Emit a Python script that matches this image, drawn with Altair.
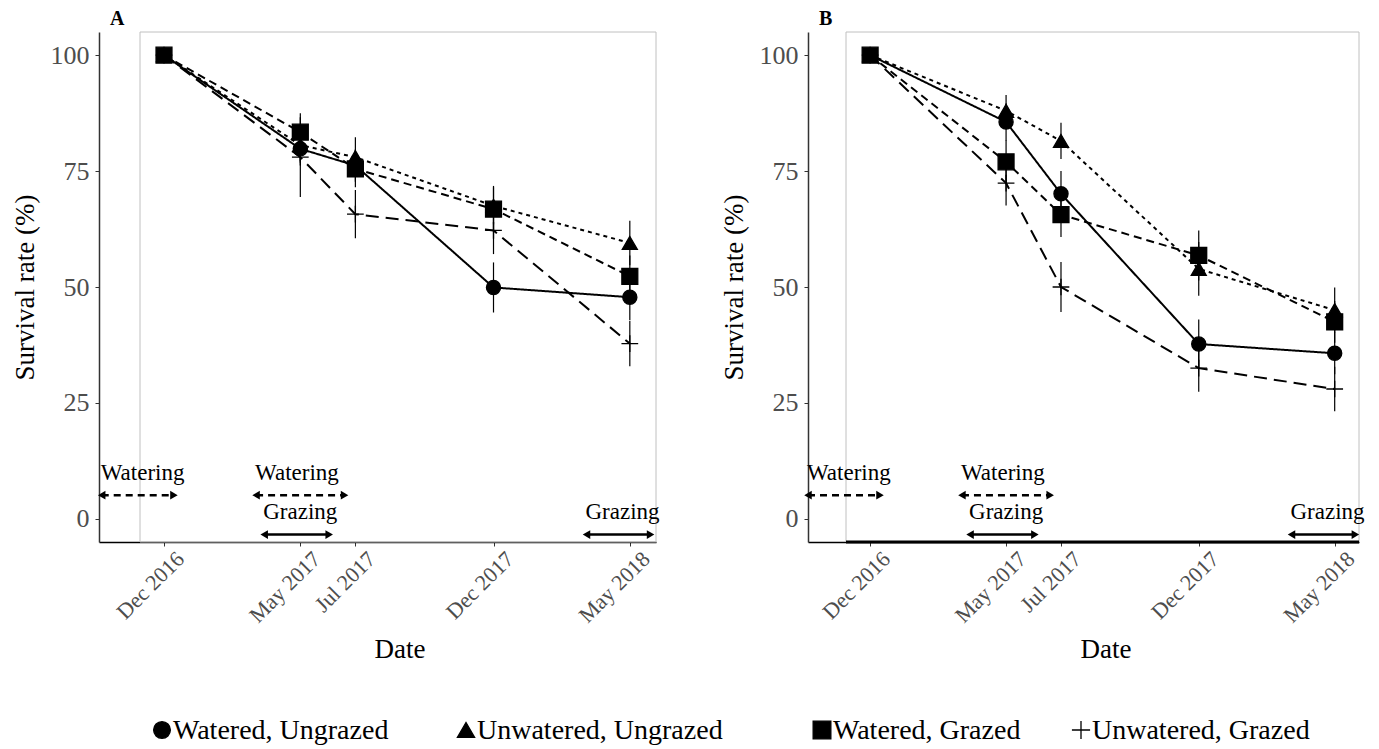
import altair as alt
import pandas as pd

SERIF = "Liberation Serif"

# ---------------- data ----------------
dates = ["2016-12-01", "2017-05-01", "2017-07-01", "2017-12-01", "2018-05-01"]
series = ["Watered, Ungrazed", "Unwatered, Ungrazed", "Watered, Grazed", "Unwatered, Grazed"]

# Panel A: mean survival (%) and error half-widths
a_watered_ungrazed = [100, 79.8, 76.2, 49.9, 47.8]
a_unwatered_ungrazed = [100, 80.6, 78.0, 67.5, 59.5]
a_watered_grazed = [100, 83.4, 75.5, 66.8, 52.3]
a_unwatered_grazed = [100, 78.0, 65.7, 62.2, 37.8]
a_err_watered_ungrazed = [1.5, 3.0, 3.5, 5.4, 4.9]
a_err_unwatered_ungrazed = [1.5, 3.5, 4.3, 4.0, 4.8]
a_err_watered_grazed = [1.5, 4.1, 4.0, 5.0, 4.5]
a_err_unwatered_grazed = [1.5, 8.6, 5.2, 5.1, 4.9]

# Panel B
b_watered_ungrazed = [100, 85.6, 70.1, 37.7, 35.7]
b_unwatered_ungrazed = [100, 88.0, 81.5, 53.9, 45.0]
b_watered_grazed = [100, 77.0, 65.6, 56.8, 42.5]
b_unwatered_grazed = [100, 72.4, 50.0, 32.5, 28.0]
b_err_watered_ungrazed = [1.5, 4.0, 4.9, 5.3, 4.5]
b_err_unwatered_ungrazed = [1.5, 3.4, 3.9, 5.8, 4.9]
b_err_watered_grazed = [1.5, 4.7, 4.8, 5.4, 4.5]
b_err_unwatered_grazed = [1.5, 4.8, 5.4, 5.1, 4.8]

# Treatment periods (annotation arrows)
period_names = ["Watering", "Watering", "Grazing", "Grazing"]
period_start = ["2016-09-23", "2017-03-13", "2017-03-22", "2018-03-14"]
period_end = ["2016-12-12", "2017-06-19", "2017-06-02", "2018-05-24"]

# ---------------- styling ----------------
shape_range = ["circle", "triangle-up", "square", "M-1,0L1,0M0,-1L0,1"]
size_range = [200, 280, 210, 430]
legend_size_range = [280, 330, 250, 480]
dash_range = [[1, 0], [4, 4], [8, 5], [13, 7]]
arrow_level = {"Watering": 5.1, "Grazing": -3.4}
label_level = {"Watering": 8.4, "Grazing": 0.0}
legend_slot_px = [63, 367, 723, 982]   # legend layout (symbol centres, px from row origin)

H = 510
LW = 1250


def dt(s):
    y, m, d = (int(p) for p in s.split("-"))
    return alt.DateTime(year=y, month=m, date=d, utc=True)


def make_X(x_domain, title_x):
    def X(field):
        return alt.X(
            f"{field}:T",
            title="Date",
            scale=alt.Scale(type="utc", domain=[dt(x_domain[0]), dt(x_domain[1])], nice=False),
            axis=alt.Axis(
                values=[dt(d) for d in dates], format="%b %Y", labelAngle=-45,
                labelAlign="right", labelBaseline="middle", labelOffset=16, labelPadding=9,
                labelFont=SERIF, labelFontSize=22, labelColor="#4d4d4d",
                tickSize=4, tickColor="#333333", domainColor="black", domainWidth=1.5,
                grid=False, labelOverlap=False, labelBound=False, labelFlush=False,
                titleFont=SERIF, titleFontSize=27, titleFontWeight="normal", titleColor="black",
                titleX=title_x, titleY=107, titleBaseline="middle",
            ),
        )
    return X


def Y(field):
    return alt.Y(
        f"{field}:Q",
        title="Survival rate (%)",
        scale=alt.Scale(domain=[-5, 105], nice=False, zero=False),
        axis=alt.Axis(
            values=[0, 25, 50, 75, 100], labelFont=SERIF, labelFontSize=26,
            labelColor="#4d4d4d", tickSize=4, tickColor="#333333", labelPadding=6,
            domainColor="#333333", domainWidth=1.5, grid=False,
            titleFont=SERIF, titleFontSize=27, titleFontWeight="normal",
            titleColor="black", titlePadding=11,
        ),
    )


def panel(letter, vals, errs, width, x_domain, frame_left, thick_bottom):
    X = make_X(x_domain, width / 2 + 22)
    rows = []
    for name, v_list, e_list in zip(series, vals, errs):
        for d, v, e in zip(dates, v_list, e_list):
            rows.append(dict(date=d, series=name, line=name, rate=v, lo=v - e, hi=v + e))
    df = pd.DataFrame(rows)

    per = pd.DataFrame({"name": period_names, "start": period_start, "end": period_end})
    per["arrow_y"] = per["name"].map(arrow_level)
    per["label_y"] = per["name"].map(label_level)

    base = alt.Chart(df)
    frame = alt.Chart(pd.DataFrame({"k": [0]})).mark_rect(
        fillOpacity=0, stroke="#c0c0c0", strokeWidth=1
    ).encode(x=alt.value(frame_left), x2=alt.value(width), y=alt.value(0), y2=alt.value(H))

    lines = base.mark_line(color="black", strokeWidth=2).encode(
        x=X("date"), y=Y("rate"),
        strokeDash=alt.StrokeDash("line:N", scale=alt.Scale(domain=series, range=dash_range), legend=None),
        detail="line:N",
    )
    errbars = base.mark_rule(color="black", strokeWidth=1.2).encode(
        x=X("date"), y=Y("lo"), y2="hi:Q"
    )
    points = base.mark_point(filled=True, color="black", stroke="black", strokeWidth=1.3, opacity=1).encode(
        x=X("date"), y=Y("rate"),
        shape=alt.Shape("series:N", scale=alt.Scale(domain=series, range=shape_range), legend=None),
        size=alt.Size("series:N", scale=alt.Scale(domain=series, range=size_range), legend=None),
    )

    pbase = alt.Chart(per)
    shafts_w = pbase.transform_filter(alt.datum.name == "Watering").mark_rule(
        color="black", strokeWidth=2.5, strokeDash=[7, 5]
    ).encode(x=X("start"), x2="end:T", y=Y("arrow_y"))
    shafts_g = pbase.transform_filter(alt.datum.name == "Grazing").mark_rule(
        color="black", strokeWidth=2.5
    ).encode(x=X("start"), x2="end:T", y=Y("arrow_y"))
    head_l = pbase.mark_point(shape="triangle-left", filled=True, color="black", size=75, opacity=1).encode(
        x=X("start"), y=Y("arrow_y"))
    head_r = pbase.mark_point(shape="triangle-right", filled=True, color="black", size=75, opacity=1).encode(
        x=X("end"), y=Y("arrow_y"))
    labels = pbase.mark_text(align="left", baseline="alphabetic", dx=-1, font=SERIF, fontSize=23, color="black").encode(
        x=X("start"), y=Y("label_y"), text="name:N")

    layers = [frame, lines, errbars, points, shafts_w, shafts_g, head_l, head_r, labels]
    if thick_bottom:
        bottom = alt.Chart(pd.DataFrame({"k": [0]})).mark_rule(color="black", strokeWidth=3).encode(
            x=alt.value(frame_left), x2=alt.value(width), y=alt.value(H))
        layers.append(bottom)

    return alt.layer(*layers).properties(
        width=width, height=H,
        title=alt.TitleParams(letter, anchor="start", frame="group", dx=11, fontSize=20,
                              font=SERIF, fontWeight="bold", color="black", offset=3),
    )


pa = panel("A",
           [a_watered_ungrazed, a_unwatered_ungrazed, a_watered_grazed, a_unwatered_grazed],
           [a_err_watered_ungrazed, a_err_unwatered_ungrazed, a_err_watered_grazed, a_err_unwatered_grazed],
           557, ("2016-09-20", "2018-05-30"), 41, False)
pb = panel("B",
           [b_watered_ungrazed, b_unwatered_ungrazed, b_watered_grazed, b_unwatered_grazed],
           [b_err_watered_ungrazed, b_err_unwatered_ungrazed, b_err_watered_grazed, b_err_unwatered_grazed],
           551, ("2016-09-23", "2018-05-28"), 38, True)

panels = alt.hconcat(pa, pb, spacing=60).resolve_scale(shape="shared", size="shared", strokeDash="shared")

# ---------------- legend row ----------------
leg_df = pd.DataFrame({"series": series, "slot": legend_slot_px})
LX = alt.X("slot:Q", scale=alt.Scale(domain=[0, LW], nice=False, zero=False), axis=None)
leg_pts = alt.Chart(leg_df).mark_point(filled=True, color="black", stroke="black", strokeWidth=1.3, opacity=1).encode(
    x=LX, y=alt.value(15),
    shape=alt.Shape("series:N", scale=alt.Scale(domain=series, range=shape_range), legend=None),
    size=alt.Size("series:N", scale=alt.Scale(domain=series, range=legend_size_range), legend=None),
)
leg_txt = alt.Chart(leg_df).mark_text(align="left", baseline="middle", dx=11, font=SERIF, fontSize=28, color="black").encode(
    x=LX, y=alt.value(16), text="series:N"
)
legend_row = alt.layer(leg_pts, leg_txt).properties(width=LW, height=30)

chart = (
    alt.vconcat(panels, legend_row, spacing=53)
    .resolve_scale(shape="independent", size="independent")
    .properties(padding={"left": 3, "top": 0, "right": 5, "bottom": 0})
    .configure_view(stroke=None)
)

chart.save("out.html", embed_options={"renderer": "svg", "actions": False})
